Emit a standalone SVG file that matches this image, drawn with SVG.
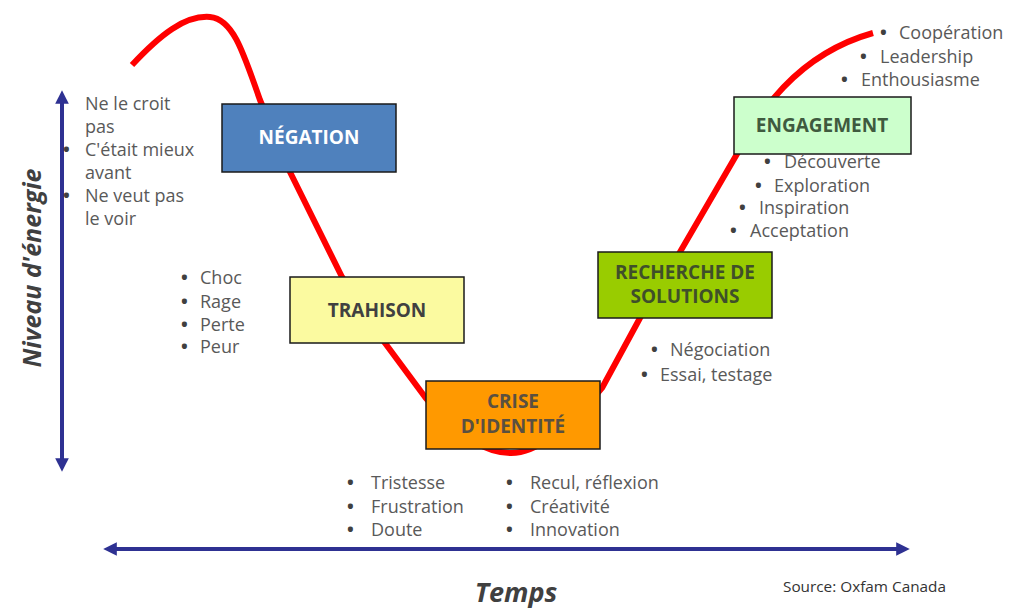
<svg xmlns="http://www.w3.org/2000/svg" width="1010" height="608" viewBox="0 0 1010 608">
  <style>
    .lbl { font-family: "Open Sans", "Liberation Sans", sans-serif; font-size: 18px; fill: #595959; }
    .dot { fill: #404040; font-weight: bold; }
    .box { stroke: #1a1a1a; stroke-width: 1.5; }
    .bt { font-family: "Open Sans", "Liberation Sans", sans-serif; font-size: 19px; font-weight: bold; text-anchor: middle; }
    .axis { stroke: #2e3192; stroke-width: 4; fill: none; }
    .ax-title { font-family: "Open Sans", "Liberation Sans", sans-serif; font-weight: bold; font-style: italic; fill: #404040; }
  </style>
  <defs>
    <marker id="arr" viewBox="0 0 10 10" refX="5" refY="5" markerWidth="3.4" markerHeight="3.4" orient="auto-start-reverse" markerUnits="strokeWidth">
      <path d="M0,0 L10,5 L0,10 Z" fill="#2e3192"/>
    </marker>
  </defs>
  <rect width="1010" height="608" fill="#ffffff"/>

  <!-- energy curve and the two axes -->
  <g id="connectors">
    <path d="M132,65 C160,35 185,15 210,17 C232,19 242,48 260,100 L290,172 L342,277 L385,343 L425,397 C458,438 488,453 511,453 C536,453 570,428 602,388 L640,318 L680,252 L737,154 C758,115 795,55 873,33" fill="none" stroke="#ff0000" stroke-width="6" stroke-linejoin="round"/>
    <line class="axis" x1="62" y1="465" x2="62" y2="97" marker-start="url(#arr)" marker-end="url(#arr)"/>
    <line class="axis" x1="110" y1="549" x2="903" y2="549" marker-start="url(#arr)" marker-end="url(#arr)"/>
  </g>

  <!-- stage boxes -->
  <g id="negation">
    <rect class="box" x="222" y="104" width="174" height="68" fill="#4f81bd"/>
    <text class="bt" x="309" y="144" fill="#ffffff">NÉGATION</text>
  </g>
  <g id="trahison">
    <rect class="box" x="290" y="277" width="174" height="66" fill="#fbfaa0"/>
    <text class="bt" x="377" y="317" fill="#404040">TRAHISON</text>
  </g>
  <g id="crise">
    <rect class="box" x="426" y="381" width="174" height="68" fill="#ff9900"/>
    <text class="bt" x="513" y="408" fill="#5a5040">CRISE</text>
    <text class="bt" x="513" y="433" fill="#5a5040">D'IDENTITÉ</text>
  </g>
  <g id="recherche">
    <rect class="box" x="598" y="252" width="174" height="66" fill="#99cc00"/>
    <text class="bt" x="685" y="279" fill="#3f4f2a">RECHERCHE DE</text>
    <text class="bt" x="685" y="303" fill="#3f4f2a">SOLUTIONS</text>
  </g>
  <g id="engagement">
    <rect class="box" x="734" y="97" width="177" height="57" fill="#ccffcc"/>
    <text class="bt" x="822" y="132" fill="#3f5a3f">ENGAGEMENT</text>
  </g>

  <!-- feelings lists -->
  <g id="list-negation" class="lbl">
    <text x="85" y="110">Ne le croit</text>
    <text x="85" y="133">pas</text>
    <text class="dot" x="63" y="156">•</text><text x="85" y="156">C'était mieux</text>
    <text x="85" y="179">avant</text>
    <text class="dot" x="63" y="202">•</text><text x="85" y="202">Ne veut pas</text>
    <text x="85" y="225">le voir</text>
  </g>
  <g id="list-trahison" class="lbl">
    <text class="dot" x="181" y="284">•</text><text x="200" y="284">Choc</text>
    <text class="dot" x="181" y="308">•</text><text x="200" y="308">Rage</text>
    <text class="dot" x="181" y="331">•</text><text x="200" y="331">Perte</text>
    <text class="dot" x="181" y="353">•</text><text x="200" y="353">Peur</text>
  </g>
  <g id="list-crise" class="lbl">
    <text class="dot" x="347" y="489">•</text><text x="371" y="489">Tristesse</text>
    <text class="dot" x="347" y="513">•</text><text x="371" y="513">Frustration</text>
    <text class="dot" x="347" y="536">•</text><text x="371" y="536">Doute</text>
    <text class="dot" x="506" y="489">•</text><text x="530" y="489">Recul, réflexion</text>
    <text class="dot" x="506" y="513">•</text><text x="530" y="513">Créativité</text>
    <text class="dot" x="506" y="536">•</text><text x="530" y="536">Innovation</text>
  </g>
  <g id="list-recherche" class="lbl">
    <text class="dot" x="651" y="356">•</text><text x="670" y="356">Négociation</text>
    <text class="dot" x="641" y="381">•</text><text x="660" y="381">Essai, testage</text>
  </g>
  <g id="list-engagement" class="lbl">
    <text class="dot" x="764" y="168">•</text><text x="784" y="168">Découverte</text>
    <text class="dot" x="755" y="192">•</text><text x="774" y="192">Exploration</text>
    <text class="dot" x="739" y="214">•</text><text x="759" y="214">Inspiration</text>
    <text class="dot" x="730" y="237">•</text><text x="750" y="237">Acceptation</text>
  </g>
  <g id="list-top" class="lbl">
    <text class="dot" x="880" y="39">•</text><text x="899" y="39">Coopération</text>
    <text class="dot" x="860" y="63">•</text><text x="880" y="63">Leadership</text>
    <text class="dot" x="841" y="86">•</text><text x="861" y="86">Enthousiasme</text>
  </g>

  <!-- axis titles and source -->
  <text class="ax-title" font-size="25" text-anchor="middle" transform="translate(41,268) rotate(-90)">Niveau d'énergie</text>
  <text class="ax-title" font-size="27" x="516" y="602" text-anchor="middle">Temps</text>
  <text x="783" y="592" font-family="'Open Sans', 'Liberation Sans', sans-serif" font-size="15" fill="#333333" textLength="163" lengthAdjust="spacingAndGlyphs">Source: Oxfam Canada</text>
</svg>
